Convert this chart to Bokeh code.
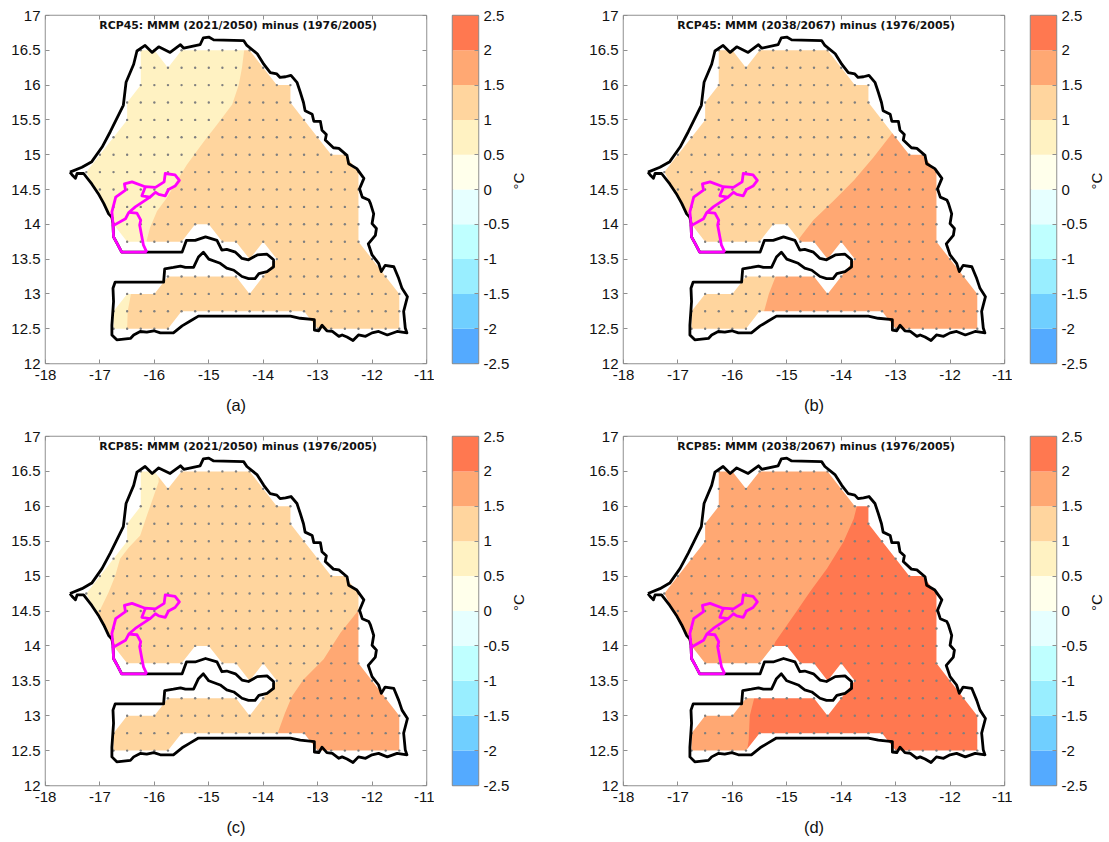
import math
import numpy as np
from bokeh.plotting import figure
from bokeh.layouts import column, row
from bokeh.models import Range1d, FixedTicker, LinearAxis
from bokeh.models import Label
from bokeh.embed import file_html
from bokeh.resources import INLINE

# ---------- data ----------
lon_ticks = [-18, -17, -16, -15, -14, -13, -12, -11]
lon_tick_labels = ["-18", "-17", "-16", "-15", "-14", "-13", "-12", "-11"]
lat_ticks = [12, 12.5, 13, 13.5, 14, 14.5, 15, 15.5, 16, 16.5, 17]
lat_tick_labels = ["12", "12.5", "13", "13.5", "14", "14.5", "15", "15.5", "16", "16.5", "17"]
cbar_edges = [-2.5, -2, -1.5, -1, -0.5, 0, 0.5, 1, 1.5, 2, 2.5]
cbar_tick_labels = ["-2.5", "-2", "-1.5", "-1", "-0.5", "0", "0.5", "1", "1.5", "2", "2.5"]
cbar_colors = ["#54AAFF", "#70CFFF", "#99EEFF", "#BFFFFF", "#E6FFFF",
               "#FFFFEB", "#FFF2C2", "#FFD59E", "#FFA873", "#FF7850"]
C_05_1, C_1_15, C_15_2, C_2_25 = cbar_colors[6], cbar_colors[7], cbar_colors[8], cbar_colors[9]

outline_lon = [-17.55, -17.33, -17.15, -16.96, -16.81, -16.57, -16.52, -16.38, -16.32, -16.17, -16.04, -15.92, -15.71,
               -15.52, -15.46, -15.16, -15.10, -15.0, -14.91, -14.36, -14.30, -14.11, -13.99, -13.87, -13.75, -13.69,
               -13.59, -13.49, -13.38, -13.32, -13.26, -13.23, -13.10, -13.07, -12.95, -12.92, -12.84, -12.86, -12.71,
               -12.61, -12.46, -12.43, -12.28, -12.15, -12.23, -12.18, -12.06, -12.03, -11.97, -12.0, -11.92, -11.94,
               -12.07, -12.0, -11.88, -11.83, -11.76, -11.60, -11.51, -11.45, -11.35, -11.42, -11.39, -11.36, -11.54,
               -11.72, -11.88, -12.0, -12.12, -12.25, -12.35, -12.46, -12.55, -12.61, -12.73, -12.83, -12.92, -12.98,
               -13.06, -13.06, -13.32, -13.50, -15.19, -15.34, -15.49, -15.65, -15.74, -15.89, -16.01, -16.14, -16.26,
               -16.38, -16.44, -16.69, -16.78, -16.78, -16.75, -16.76, -16.72, -15.83, -15.81, -15.65, -15.52, -15.43,
               -15.28, -15.19, -15.10, -15.0, -14.79, -14.67, -14.54, -14.39, -14.27, -14.15, -14.08, -13.93, -13.81,
               -13.81, -13.93, -14.11, -14.27, -14.39, -14.51, -14.67, -14.76, -14.85, -15.06, -15.25, -15.41, -15.49,
               -16.14, -16.60, -16.68, -16.75, -16.76, -16.78, -16.84, -16.93, -17.03, -17.15, -17.30, -17.42, -17.45,
               -17.50, -17.55]
outline_lat = [14.75, 14.82, 14.90, 15.11, 15.33, 15.71, 16.04, 16.30, 16.49, 16.57, 16.47, 16.55, 16.47,
               16.58, 16.53, 16.58, 16.68, 16.69, 16.65, 16.64, 16.57, 16.45, 16.30, 16.18, 16.16, 16.11,
               16.12, 16.14, 16.04, 15.90, 15.75, 15.63, 15.58, 15.48, 15.48, 15.35, 15.29, 15.21, 15.10,
               15.09, 14.99, 14.87, 14.80, 14.66, 14.51, 14.39, 14.35, 14.30, 14.15, 14.01, 13.94, 13.84,
               13.72, 13.56, 13.44, 13.32, 13.41, 13.39, 13.22, 13.08, 12.96, 12.75, 12.51, 12.44, 12.46,
               12.41, 12.46, 12.44, 12.39, 12.41, 12.33, 12.38, 12.41, 12.39, 12.46, 12.47, 12.55, 12.47,
               12.48, 12.63, 12.65, 12.68, 12.68, 12.61, 12.54, 12.44, 12.44, 12.44, 12.47, 12.45, 12.46,
               12.41, 12.36, 12.34, 12.41, 12.55, 12.89, 13.08, 13.17, 13.17, 13.36, 13.38, 13.40, 13.38,
               13.38, 13.53, 13.60, 13.50, 13.44, 13.37, 13.34, 13.25, 13.22, 13.22, 13.29, 13.32, 13.39,
               13.49, 13.57, 13.56, 13.49, 13.51, 13.60, 13.64, 13.63, 13.77, 13.82, 13.77, 13.77, 13.60,
               13.60, 13.60, 13.72, 13.82, 14.01, 14.10, 14.15, 14.30, 14.44, 14.58, 14.73, 14.73, 14.66,
               14.70, 14.75]

basin_outer_lon = [-16.14, -16.60, -16.68, -16.75, -16.76, -16.78, -16.71, -16.53, -16.55, -16.41, -16.17, -15.98, -15.82,
                   -15.80, -15.62, -15.54, -15.62, -15.74, -15.80, -15.92, -15.98, -16.08, -16.23, -16.17]
basin_outer_lat = [13.60, 13.60, 13.72, 13.82, 14.01, 14.18, 14.39, 14.49, 14.58, 14.61, 14.54, 14.53, 14.61,
                   14.73, 14.71, 14.63, 14.55, 14.50, 14.41, 14.43, 14.46, 14.39, 14.41, 14.53]
basin_mid_lon = [-16.08, -16.35, -16.47, -16.53, -16.78]
basin_mid_lat = [14.39, 14.25, 14.17, 14.08, 13.97]
basin_low_lon = [-16.47, -16.32, -16.25, -16.27, -16.23, -16.20, -16.14]
basin_low_lat = [14.17, 14.16, 14.06, 13.99, 13.82, 13.70, 13.60]

mask_lon = [-17.25, -16.5, -16.5, -16.25, -16.25, -16, -15.75, -15.5, -14.25, -13.75, -13.5, -13.5, -13.25, -12.75, -12.5,
            -12.25, -12.25, -11.5, -11.5, -13, -13.25, -15.5, -15.75, -16.75, -16.75, -16.5, -16, -15.75, -14.5, -14.25,
            -14, -13.75, -14, -14.25, -14.5, -14.75, -15, -15.25, -15.5, -16.5, -16.75]
mask_lat = [14.75, 15.5, 15.75, 16, 16.5, 16.5, 16.25, 16.5, 16.5, 16, 16, 15.75, 15.5, 15, 15,
            14.75, 13.75, 13, 12.5, 12.5, 12.75, 12.75, 12.5, 12.5, 12.75, 13, 13, 13.25, 13.25, 13,
            13.25, 13.5, 13.75, 13.5, 13.75, 13.75, 14, 14, 13.75, 13.75, 14]

dot_rows = {16.5: [(-16.25, -16.0), (-15.5, -14.25)], 16.25: [(-16.25, -14.0)], 16.0: [(-16.25, -13.5)],
            15.75: [(-16.5, -13.5)], 15.5: [(-16.5, -13.25)], 15.25: [(-16.75, -13.0)], 15.0: [(-17.0, -12.5)],
            14.75: [(-17.25, -12.25)], 14.5: [(-17.0, -12.25)], 14.25: [(-16.75, -12.25)], 14.0: [(-16.75, -12.25)],
            13.75: [(-16.5, -15.5), (-14.75, -14.5), (-14.0, -12.25)], 13.5: [(-14.25, -14.25), (-13.75, -12.0)],
            13.25: [(-15.75, -14.5), (-14.0, -11.75)], 13.0: [(-16.5, -11.5)], 12.75: [(-16.75, -11.5)],
            12.5: [(-16.75, -15.75), (-13.0, -11.5)]}

a_band_lon = [-14.35, -14.35, -14.39, -14.45, -14.57, -14.85, -15.09, -15.40, -15.59, -15.77, -15.95, -16.08, -16.14,
              -16.16, -16.43, -16.49, -16.5, -16.5, -17.4, -17.4]
a_band_lat = [16.6, 16.5, 16.25, 16.0, 15.72, 15.43, 15.19, 14.86, 14.62, 14.38, 14.19, 13.95, 13.77,
              13.6, 13.0, 12.75, 12.5, 12.4, 12.4, 16.6]
b_band_lon = [-12.9, -13.07, -13.41, -13.77, -14.14, -14.51, -14.78, -15.21, -15.33, -15.42, -15.42, -11.4, -11.4]
b_band_lat = [15.5, 15.30, 14.96, 14.63, 14.34, 14.06, 13.79, 13.24, 13.0, 12.74, 12.4, 12.4, 15.5]
c_low_lon = [-15.94, -15.92, -16.01, -16.14, -16.26, -16.47, -16.63, -16.72, -16.84, -17.0, -17.4, -17.4]
c_low_lat = [16.6, 16.35, 16.15, 15.86, 15.58, 15.41, 15.25, 15.0, 14.77, 14.51, 14.3, 16.6]
c_high_lon = [-12.2, -12.26, -12.58, -12.89, -13.26, -13.47, -13.6, -13.73, -13.73, -11.4, -11.4]
c_high_lat = [14.6, 14.5, 14.19, 13.81, 13.52, 13.28, 13.04, 12.76, 12.4, 12.4, 14.6]
d_band_lon = [-13.68, -13.70, -13.77, -13.96, -14.26, -14.57, -14.87, -15.21, -15.59, -15.68, -15.70, -15.73, -15.73, -11.4, -11.4]
d_band_lat = [16.2, 16.04, 15.82, 15.49, 15.11, 14.78, 14.44, 14.06, 13.28, 13.0, 12.65, 12.5, 12.4, 12.4, 16.2]

panels = [
    dict(title="RCP45: MMM (2021/2050) minus (1976/2005)", cap="(a)", base=C_1_15,
         bands=[(a_band_lon, a_band_lat, C_05_1)]),
    dict(title="RCP45: MMM (2038/2067) minus (1976/2005)", cap="(b)", base=C_1_15,
         bands=[(b_band_lon, b_band_lat, C_15_2)]),
    dict(title="RCP85: MMM (2021/2050) minus (1976/2005)", cap="(c)", base=C_1_15,
         bands=[(c_low_lon, c_low_lat, C_05_1), (c_high_lon, c_high_lat, C_15_2)]),
    dict(title="RCP85: MMM (2038/2067) minus (1976/2005)", cap="(d)", base=C_15_2,
         bands=[(d_band_lon, d_band_lat, C_2_25)]),
]

# ---------- style ----------
GRAY = "#8f8f8f"
SANS = "Liberation Sans"
TICK_PX = "15px"
dots_lon, dots_lat = [], []
for la, segs in dot_rows.items():
    for lo0, lo1 in segs:
        for lo in np.arange(lo0, lo1 + 0.01, 0.25):
            dots_lon.append(float(lo))
            dots_lat.append(la)


def style_axis(ax, ticks, labels=None):
    ax.ticker = FixedTicker(ticks=ticks)
    ax.major_tick_in = 4
    ax.major_tick_out = 0
    ax.minor_tick_line_color = None
    ax.axis_line_color = None
    ax.major_tick_line_color = GRAY
    ax.major_tick_line_width = 1
    ax.major_label_text_font = SANS
    ax.major_label_text_font_size = TICK_PX
    ax.major_label_text_color = "#111111"
    if labels is None:
        ax.major_label_overrides = {t: "" for t in ticks}
        ax.major_label_text_font_size = "1px"
        ax.major_label_standoff = 0
    else:
        ax.major_label_overrides = dict(zip(ticks, labels))


def map_fig(cfg, left, top, bottom, fh):
    p = figure(frame_width=381, frame_height=fh, toolbar_location=None, output_backend="svg",
               x_range=Range1d(-18, -11), y_range=Range1d(12, 17), x_axis_location="below",
               min_border_left=left, min_border_right=8, min_border_top=top, min_border_bottom=bottom,
               background_fill_color="white", border_fill_color="white", outline_line_color=GRAY,
               outline_line_width=1.5)
    p.grid.visible = False
    style_axis(p.xaxis[0], lon_ticks, lon_tick_labels)
    style_axis(p.yaxis[0], lat_ticks, lat_tick_labels)
    p.xaxis[0].major_label_standoff = 6
    p.yaxis[0].major_label_standoff = 5
    p.xaxis[0].axis_label = cfg["cap"]
    p.xaxis[0].axis_label_text_font = SANS
    p.xaxis[0].axis_label_text_font_style = "normal"
    p.xaxis[0].axis_label_text_font_size = "16.5px"
    p.xaxis[0].axis_label_text_color = "#111111"
    p.xaxis[0].axis_label_standoff = 13
    top_ax = LinearAxis()
    right_ax = LinearAxis()
    style_axis(top_ax, lon_ticks)
    style_axis(right_ax, lat_ticks)
    p.add_layout(top_ax, "above")
    p.add_layout(right_ax, "right")

    p.quad(left=[-17.4], right=[-11.4], bottom=[12.4], top=[16.6], fill_color=cfg["base"], line_color=None)
    for blon, blat, col in cfg["bands"]:
        p.patch(blon, blat, fill_color=col, line_color=None)
    # everything outside the data mask stays white (ring joined to the reversed mask by a seam)
    cover_x = [-18, -18, -11, -11, -18, -18] + [mask_lon[0]] + mask_lon[::-1] + [-18]
    cover_y = [14.75, 17, 17, 12, 12, 14.75] + [mask_lat[0]] + mask_lat[::-1] + [14.75]
    p.patch(cover_x, cover_y, fill_color="white", line_color=None)

    p.scatter(dots_lon, dots_lat, size=2.4, marker="circle", fill_color="#7f7f7f", line_color=None)
    p.line(outline_lon, outline_lat, line_color="black", line_width=2.8, line_join="round")
    p.line(basin_outer_lon, basin_outer_lat, line_color="#FF00FF", line_width=2.8, line_join="round")
    p.line(basin_mid_lon, basin_mid_lat, line_color="#FF00FF", line_width=2.8, line_join="round")
    p.line(basin_low_lon, basin_low_lat, line_color="#FF00FF", line_width=2.8, line_join="round")

    p.add_layout(Label(x=-14.46, y=16.85, text=cfg["title"], text_font="DejaVu Sans", text_font_style="bold",
                       text_font_size="10.9px", text_align="center", text_baseline="middle", text_color="#111111"))
    return p


def cbar_fig(width, top, bottom, fh):
    p = figure(frame_width=26, frame_height=fh, toolbar_location=None, output_backend="svg",
               x_range=Range1d(0, 1), y_range=Range1d(-2.5, 2.5), x_axis_location=None, y_axis_location="right",
               min_border_left=18, min_border_right=width - 44, min_border_top=top, min_border_bottom=bottom,
               background_fill_color="white", border_fill_color="white", outline_line_color=GRAY,
               outline_line_width=1.5)
    p.grid.visible = False
    style_axis(p.yaxis[0], cbar_edges, cbar_tick_labels)
    p.yaxis[0].major_label_standoff = 5
    p.yaxis[0].axis_label = "\u00b0C"
    p.yaxis[0].axis_label_text_font = SANS
    p.yaxis[0].axis_label_text_font_style = "normal"
    p.yaxis[0].axis_label_text_font_size = "15px"
    p.yaxis[0].axis_label_text_color = "#111111"
    p.yaxis[0].axis_label_orientation = math.pi / 2
    p.yaxis[0].axis_label_standoff = 6
    p.quad(left=0, right=1, bottom=cbar_edges[:-1], top=cbar_edges[1:], fill_color=cbar_colors,
           line_color=None)
    return p


pa = map_fig(panels[0], 45, 15, 62, 348)
ca = cbar_fig(151, 15, 62, 348)
pb = map_fig(panels[1], 38, 15, 62, 348)
cb = cbar_fig(89, 15, 62, 348)
pc = map_fig(panels[2], 45, 11, 49, 349)
cc = cbar_fig(151, 11, 49, 349)
pd_ = map_fig(panels[3], 38, 11, 49, 349)
cd = cbar_fig(89, 11, 49, 349)

layout = column(row(pa, ca, pb, cb), row(pc, cc, pd_, cd))
open("out.html", "w").write(file_html(layout, INLINE))
